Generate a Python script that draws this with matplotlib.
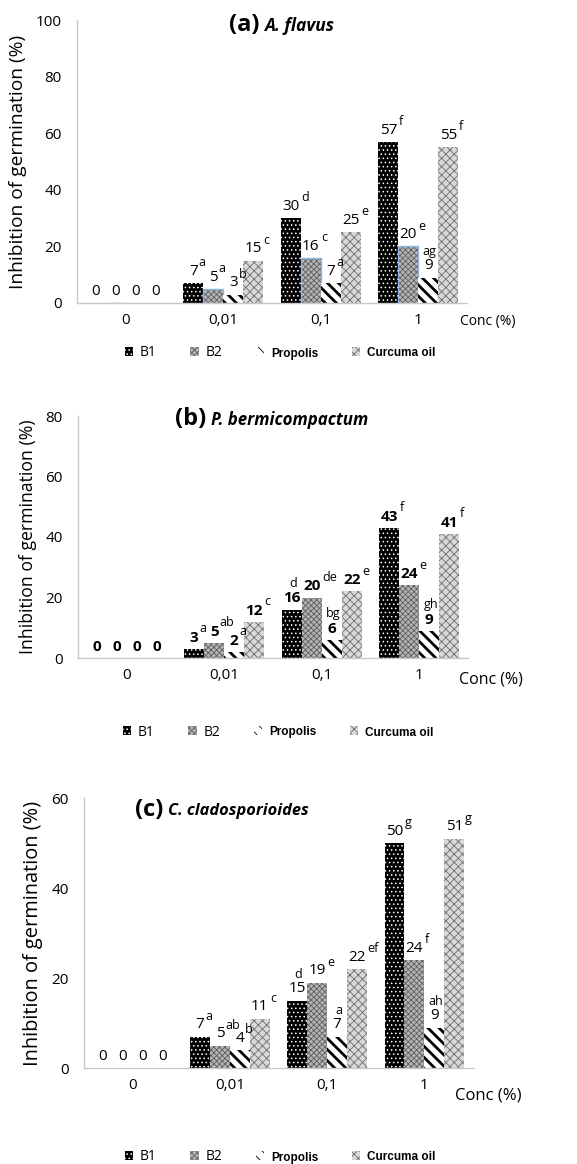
import matplotlib

matplotlib.use("Agg")
import matplotlib.pyplot as plt
from matplotlib.patches import Patch
import numpy as np

plt.rcParams["font.family"] = ["Open Sans", "DejaVu Sans"]
plt.rcParams["hatch.linewidth"] = 0.6

W, H = 577, 1164

concs = ["0", "0,01", "0,1", "1"]
series = ["B1", "B2", "Propolis", "Curcuma oil"]

# (a) A. flavus
a_vals = [[0, 7, 30, 57], [0, 5, 16, 20], [0, 3, 7, 9], [0, 15, 25, 55]]
a_lets = [["", "a", "d", "f"], ["", "a", "c", "e"], ["", "b", "a", "ag"], ["", "c", "e", "f"]]
a_mode = [["r", "r", "r", "r"], ["r", "r", "r", "r"], ["r", "r", "r", "u"], ["r", "r", "r", "r"]]

# (b) P. bermicompactum
b_vals = [[0, 3, 16, 43], [0, 5, 20, 24], [0, 2, 6, 9], [0, 12, 22, 41]]
b_lets = [["", "a", "d", "f"], ["", "ab", "de", "e"], ["", "a", "bg", "gh"], ["", "c", "e", "f"]]
b_mode = [["r", "r", "u", "r"], ["r", "r", "r", "r"], ["r", "r", "u", "u"], ["r", "r", "r", "r"]]

# (c) C. cladosporioides
c_vals = [[0, 7, 15, 50], [0, 5, 19, 24], [0, 4, 7, 9], [0, 11, 22, 51]]
c_lets = [["", "a", "d", "g"], ["", "ab", "e", "f"], ["", "b", "a", "ah"], ["", "c", "ef", "g"]]
c_mode = [["r", "r", "u", "r"], ["r", "r", "r", "r"], ["r", "r", "u", "u"], ["r", "r", "r", "r"]]


def px(x, y):
    return x / W, 1 - y / H


def bar_style(i):
    if i == 0:
        return dict(facecolor="black", edgecolor="white", hatch="....", linewidth=0)
    if i == 1:
        return dict(facecolor="#b4b4b4", edgecolor="#5e5e5e", hatch="xxxxxx", linewidth=0)
    if i == 2:
        return dict(facecolor="white", edgecolor="black", hatch="\\\\\\", linewidth=0)
    return dict(facecolor="#d8d8d8", edgecolor="#6e6e6e", hatch="xxxx", linewidth=0)


def draw_panel(rect, vals, lets, modes, ymax, num_bold, blue_edge, ylab_size):
    ax = fig.add_axes(rect)
    x = np.arange(len(concs))
    w = 0.205
    for i, v in enumerate(vals):
        xi = x + (i - 1.5) * w
        st = bar_style(i)
        if i == 2:
            with plt.rc_context({"hatch.linewidth": 2.0}):
                ax.bar(xi, v, w, **st)
        else:
            ax.bar(xi, v, w, **st)
        if i == 1 and blue_edge:
            ax.bar(xi, v, w, fill=False, edgecolor="#8db4e2", linewidth=1.0)
        for xx, vv, ll, mm in zip(xi, v, lets[i], modes[i]):
            s = str(vv)
            ax.annotate(s, (xx, vv), xytext=(0, 3), textcoords="offset points",
                        ha="center", va="bottom", fontsize=11,
                        fontweight="bold" if num_bold else "normal")
            if not ll:
                continue
            if mm == "r":
                ax.annotate(ll, (xx, vv), xytext=(3.4 * len(s) + 0.5, 10),
                            textcoords="offset points", ha="left", va="bottom", fontsize=9)
            else:
                ax.annotate(ll, (xx, vv), xytext=(1, 14),
                            textcoords="offset points", ha="center", va="bottom", fontsize=9)
    ax.set_xlim(-0.5, 3.5)
    ax.set_ylim(0, ymax)
    ax.set_yticks(np.arange(0, ymax + 1, 20))
    ax.set_xticks(x)
    ax.set_xticklabels(concs)
    ax.tick_params(length=0, labelsize=11, pad=7)
    ax.tick_params(axis="y", pad=11)
    for sp in ["top", "right"]:
        ax.spines[sp].set_visible(False)
    for sp in ["left", "bottom"]:
        ax.spines[sp].set_color("#c8c8c8")
        ax.spines[sp].set_linewidth(1.0)
    ax.set_ylabel("Inhibition of germination (%)", fontsize=ylab_size, labelpad=6)
    return ax


def add_legend(cx, cy):
    handles = [Patch(**bar_style(i)) for i in range(4)]
    leg = fig.legend(handles, series, loc="center", bbox_to_anchor=px(cx, cy), ncol=4,
                     frameon=False, fontsize=10, handlelength=0.6, handleheight=0.6,
                     handletextpad=0.5, columnspacing=2.4)
    for t in leg.get_texts()[2:]:
        t.set_family(["Liberation Sans", "DejaVu Sans"])
        t.set_fontweight("bold")
        t.set_fontsize(8.5)
    return leg


def add_title(letter, species, xsplit, y, size):
    fig.text(*px(xsplit, y), letter, ha="right", va="center", fontsize=17, fontweight="bold")
    fig.text(*px(xsplit + 5, y + 1), species, ha="left", va="center", fontsize=size,
             fontweight="bold", style="italic")


fig = plt.figure(figsize=(W / 100, H / 100), dpi=100)

draw_panel([77 / W, 1 - 303 / H, 390 / W, 283 / H], a_vals, a_lets, a_mode, 100, False, True, 13.8)
draw_panel([78 / W, 1 - 658 / H, 390 / W, 242 / H], b_vals, b_lets, b_mode, 80, True, False, 12.7)
draw_panel([84 / W, 1 - 1068 / H, 389 / W, 270 / H], c_vals, c_lets, c_mode, 60, False, False, 14.4)

add_title("(a)", "A. flavus", 259, 25, 12.5)
add_title("(b)", "P. bermicompactum", 206, 419, 12.2)
add_title("(c)", "C. cladosporioides", 163, 810, 11.8)

fig.text(*px(460, 322), "Conc (%)", ha="left", va="center", fontsize=10)
fig.text(*px(459, 679), "Conc (%)", ha="left", va="center", fontsize=11.5)
fig.text(*px(455, 1095), "Conc (%)", ha="left", va="center", fontsize=12)

add_legend(280, 353)
add_legend(278, 732)
add_legend(280, 1157)

fig.savefig("out.png", dpi=100)
